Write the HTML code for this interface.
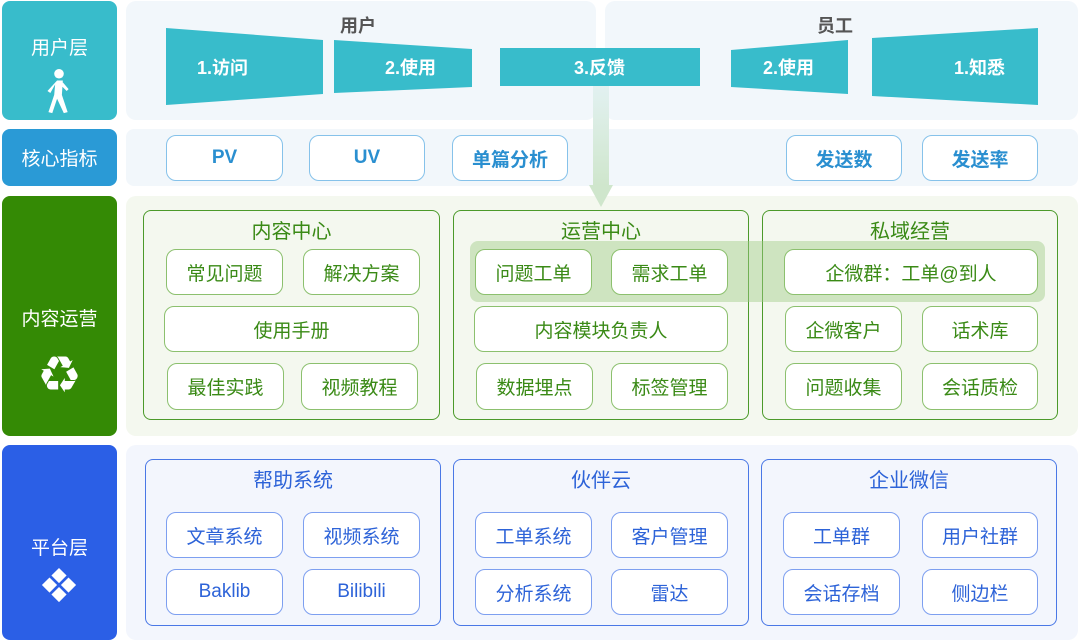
<!DOCTYPE html>
<html><head><meta charset="utf-8"><style>
*{margin:0;padding:0;box-sizing:border-box}
body{width:1080px;height:642px;background:#fff;position:relative;overflow:hidden;font-family:"Liberation Sans","Noto Sans CJK SC",sans-serif}
div{position:absolute}
.c{display:flex;align-items:center;justify-content:center;text-align:center}
.lab{border-radius:8px;color:#fff;font-size:19px}
.lt{color:#fff;font-size:19px;width:115px;left:2px;text-align:center}
.m{background:#fff;border:1.5px solid #86c2ea;border-radius:10px;color:#2a8fd0;font-size:19px;font-weight:bold}
.g{background:#fff;border:1.5px solid #8cc06e;border-radius:10px;color:#3a8a16;font-size:19px}
.gs{border:1.8px solid #4c9a2a;border-radius:8px}
.gt{color:#3a8a16;font-size:20px;width:100%;text-align:center}
.b{background:#fff;border:1.5px solid #7d9ff0;border-radius:10px;color:#2d63d8;font-size:19px}
.bs{border:1.8px solid #4a78e6;border-radius:8px}
.bt{color:#2d63d8;font-size:20px;width:100%;text-align:center}
</style></head><body>
<!-- left labels -->
<div class="lab" style="left:2px;top:1px;width:115px;height:119px;background:#38bccb"></div>
<div class="lt" style="top:33px">用户层</div>
<svg style="position:absolute;left:44px;top:68px" width="30" height="48" viewBox="0 0 30 50"><circle cx="15" cy="6" r="5" fill="#fff"/><path d="M13 13 L19 13 L18 28 L24 46 L20 47 L13 32 L8 47 L4 46 L10 28 L11 17 L6 26 L3 24 Z M19 15 L25 22 L23 24 L18 19Z" fill="#fff"/></svg>
<div class="c lab" style="left:2px;top:129px;width:115px;height:57px;background:#2a9ad6">核心指标</div>
<div class="lab" style="left:2px;top:196px;width:115px;height:240px;background:#348a05"></div>
<div class="lt" style="top:304px">内容运营</div>
<div class="lt" style="top:356px;font-size:38px;line-height:40px">♻</div>
<div class="lab" style="left:2px;top:445px;width:115px;height:195px;background:#2b5fe6"></div>
<div class="lt" style="top:533px">平台层</div>
<svg style="position:absolute;left:40px;top:567px" width="38" height="38" viewBox="0 0 40 40"><g fill="#fff"><path d="M20 1 L28 9 L20 17 L12 9Z"/><path d="M10 11 L18 19 L10 27 L2 19Z"/><path d="M30 11 L38 19 L30 27 L22 19Z"/><path d="M20 21 L28 29 L20 37 L12 29Z"/></g></svg>
<!-- panels -->
<div style="left:126px;top:1px;width:470px;height:119px;background:#f2f7fb;border-radius:10px"></div>
<div style="left:605px;top:1px;width:473px;height:119px;background:#f2f7fb;border-radius:10px"></div>
<div style="left:126px;top:129px;width:952px;height:57px;background:#f2f7fb;border-radius:8px"></div>
<div style="left:126px;top:196px;width:952px;height:240px;background:#f4f8ef;border-radius:10px"></div>
<div style="left:126px;top:445px;width:952px;height:195px;background:#f3f6fd;border-radius:10px"></div>
<div style="left:340px;top:12px;font-size:18px;font-weight:bold;color:#555">用户</div>
<div style="left:817px;top:12px;font-size:18px;font-weight:bold;color:#555">员工</div>
<svg style="position:absolute;left:0;top:0" width="1080" height="642">
<defs><linearGradient id="ar" x1="0" y1="0" x2="0" y2="1"><stop offset="0" stop-color="#e2f1f1"/><stop offset="1" stop-color="#cfe6cc"/></linearGradient></defs>
<g fill="#38bccb">
<polygon points="166,28 323,40 323,94 166,105"/>
<polygon points="334,40 472,49 472,87 334,93"/>
<rect x="500" y="48" width="200" height="38"/>
<polygon points="731,50 848,40 848,94 731,87"/>
<polygon points="872,38 1038,28 1038,105 872,96"/>
</g>
<rect x="593" y="86" width="16" height="100" fill="url(#ar)"/>
<polygon points="589,185 613,185 601,207" fill="#cfe6cc"/>
<g fill="#fff" font-size="18" font-weight="bold" font-family="Liberation Sans,Noto Sans CJK SC,sans-serif">
<text x="197" y="74">1.访问</text><text x="385" y="74">2.使用</text><text x="574" y="74">3.反馈</text>
<text x="763" y="74">2.使用</text><text x="954" y="74">1.知悉</text></g>
</svg>
<div class="c m" style="left:166px;top:135px;width:117px;height:46px">PV</div>
<div class="c m" style="left:309px;top:135px;width:116px;height:46px">UV</div>
<div class="c m" style="left:452px;top:135px;width:116px;height:46px">单篇分析</div>
<div class="c m" style="left:786px;top:135px;width:116px;height:46px">发送数</div>
<div class="c m" style="left:922px;top:135px;width:116px;height:46px">发送率</div>
<!-- content sections -->
<div class="gs" style="left:143px;top:210px;width:297px;height:210px"><div class="gt" style="top:4px">内容中心</div></div>
<div class="gs" style="left:453px;top:210px;width:296px;height:210px"><div class="gt" style="top:4px">运营中心</div></div>
<div class="gs" style="left:762px;top:210px;width:296px;height:210px"><div class="gt" style="top:4px">私域经营</div></div>
<div style="left:470px;top:241px;width:575px;height:61px;background:rgba(160,205,135,0.45);border-radius:8px"></div>
<div class="c g" style="left:166px;top:249px;width:117px;height:46px">常见问题</div>
<div class="c g" style="left:303px;top:249px;width:117px;height:46px">解决方案</div>
<div class="c g" style="left:164px;top:306px;width:255px;height:46px">使用手册</div>
<div class="c g" style="left:167px;top:363px;width:117px;height:47px">最佳实践</div>
<div class="c g" style="left:301px;top:363px;width:117px;height:47px">视频教程</div>
<div class="c g" style="left:475px;top:249px;width:117px;height:46px">问题工单</div>
<div class="c g" style="left:611px;top:249px;width:117px;height:46px">需求工单</div>
<div class="c g" style="left:474px;top:306px;width:254px;height:46px">内容模块负责人</div>
<div class="c g" style="left:476px;top:363px;width:117px;height:47px">数据埋点</div>
<div class="c g" style="left:611px;top:363px;width:117px;height:47px">标签管理</div>
<div class="c g" style="left:784px;top:249px;width:254px;height:46px">企微群：工单@到人</div>
<div class="c g" style="left:785px;top:306px;width:117px;height:46px">企微客户</div>
<div class="c g" style="left:922px;top:306px;width:116px;height:46px">话术库</div>
<div class="c g" style="left:785px;top:363px;width:117px;height:47px">问题收集</div>
<div class="c g" style="left:922px;top:363px;width:116px;height:47px">会话质检</div>
<!-- platform -->
<div class="bs" style="left:145px;top:459px;width:296px;height:167px"><div class="bt" style="top:4px">帮助系统</div></div>
<div class="bs" style="left:453px;top:459px;width:296px;height:167px"><div class="bt" style="top:4px">伙伴云</div></div>
<div class="bs" style="left:761px;top:459px;width:296px;height:167px"><div class="bt" style="top:4px">企业微信</div></div>
<div class="c b" style="left:166px;top:512px;width:117px;height:46px">文章系统</div>
<div class="c b" style="left:303px;top:512px;width:117px;height:46px">视频系统</div>
<div class="c b" style="left:166px;top:569px;width:117px;height:46px">Baklib</div>
<div class="c b" style="left:303px;top:569px;width:117px;height:46px">Bilibili</div>
<div class="c b" style="left:475px;top:512px;width:117px;height:46px">工单系统</div>
<div class="c b" style="left:611px;top:512px;width:117px;height:46px">客户管理</div>
<div class="c b" style="left:475px;top:569px;width:117px;height:46px">分析系统</div>
<div class="c b" style="left:611px;top:569px;width:117px;height:46px">雷达</div>
<div class="c b" style="left:783px;top:512px;width:117px;height:46px">工单群</div>
<div class="c b" style="left:922px;top:512px;width:116px;height:46px">用户社群</div>
<div class="c b" style="left:783px;top:569px;width:117px;height:46px">会话存档</div>
<div class="c b" style="left:922px;top:569px;width:116px;height:46px">侧边栏</div>
</body></html>
